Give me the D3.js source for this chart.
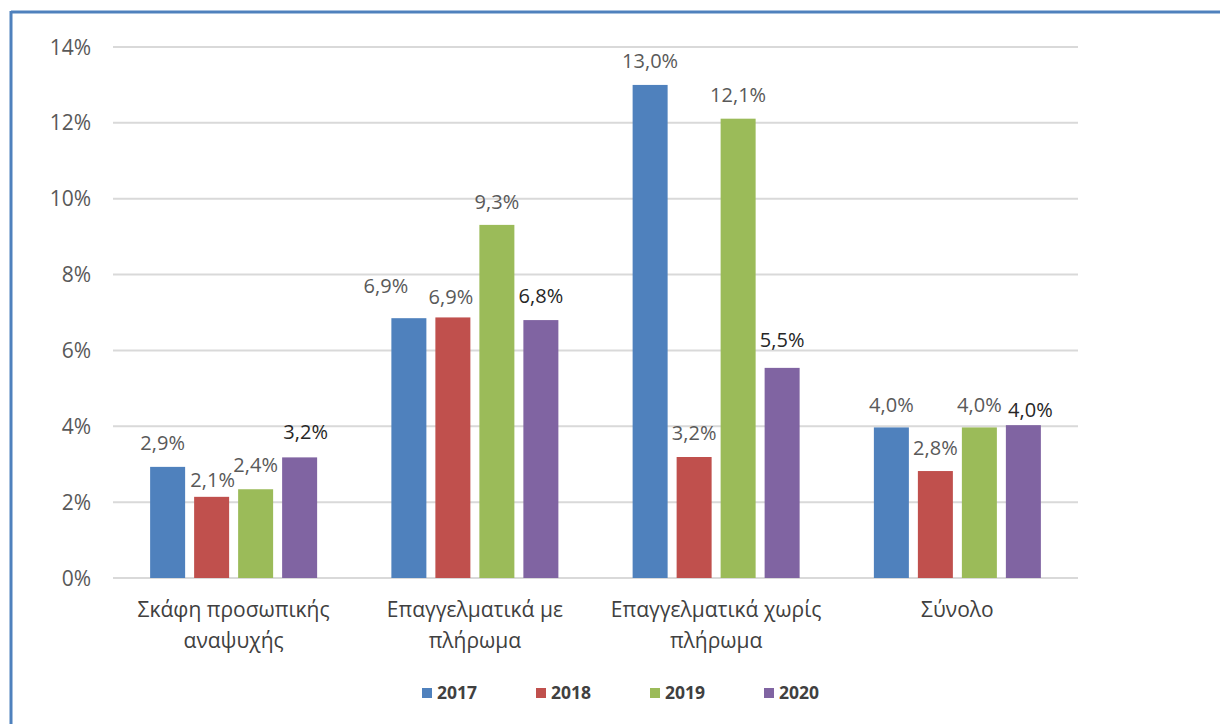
<!DOCTYPE html>
<html><head><meta charset="utf-8">
<script src="https://cdn.jsdelivr.net/npm/d3@7"></script>
<style>html,body{margin:0;padding:0;background:#fff;}svg{display:block;}</style>
</head><body>
<svg id="chart" width="1220" height="724"></svg>
<script>
const categories = [["Σκάφη προσωπικής","αναψυχής"],["Επαγγελματικά με","πλήρωμα"],["Επαγγελματικά χωρίς","πλήρωμα"],["Σύνολο"]];
const years = ["2017","2018","2019","2020"];
const v2017 = [2.93, 6.85, 13.0, 3.97];
const v2018 = [2.14, 6.87, 3.19, 2.82];
const v2019 = [2.34, 9.31, 12.11, 3.97];
const v2020 = [3.18, 6.80, 5.54, 4.03];
const labels2017 = ["2,9%","6,9%","13,0%","4,0%"];
const labels2018 = ["2,1%","6,9%","3,2%","2,8%"];
const labels2019 = ["2,4%","9,3%","12,1%","4,0%"];
const labels2020 = ["3,2%","6,8%","5,5%","4,0%"];
const yTicks = [0,2,4,6,8,10,12,14];
const colors = ["#4f81bd","#c0504d","#9bbb59","#8064a2"];

// layout: manual label nudges (dx, dy) per series/category, as placed in the original
const labelNudge = [
  [[-5,0],[-23,-8],[0,0],[0,2]],
  [[1,7],[-2,4],[0,0],[0,1]],
  [[0,0],[0,1],[0,0],[0,2]],
  [[6,-1],[0,0],[0,-4],[7,9]]
];

const series = [v2017,v2018,v2019,v2020];
const seriesLabels = [labels2017,labels2018,labels2019,labels2020];
const font = "'Open Sans', 'Noto Sans', sans-serif";

const svg = d3.select("#chart");
// outer frame
svg.append("line").attr("x1",11).attr("x2",1220).attr("y1",12).attr("y2",12).attr("stroke","#4f81bd").attr("stroke-width",3);
svg.append("line").attr("x1",11).attr("x2",11).attr("y1",11).attr("y2",724).attr("stroke","#4f81bd").attr("stroke-width",3);

const pLeft=113, pRight=1078, pTop=47, pBottom=578;
const y = d3.scaleLinear().domain([0,14]).range([pBottom, pTop]);
const x0 = d3.scaleBand().domain(d3.range(categories.length)).range([pLeft,pRight]);
const groupW = 167;
const x1 = d3.scaleBand().domain(years).range([0,groupW]).paddingInner(9/44);

// gridlines
svg.append("g").selectAll("line").data(yTicks).join("line")
  .attr("x1",pLeft).attr("x2",pRight)
  .attr("y1",d=>y(d)).attr("y2",d=>y(d))
  .attr("stroke","#d9d9d9").attr("stroke-width",2);

// y tick labels
svg.append("g").selectAll("text").data(yTicks).join("text")
  .attr("x",91).attr("y",d=>y(d)).attr("dy","0.36em")
  .attr("text-anchor","end").attr("font-family",font).attr("font-size",21)
  .attr("fill","#595959").text(d=>d+"%");

// bars
series.forEach((vals,si)=>{
  const g = svg.append("g");
  g.selectAll("rect").data(vals).join("rect")
    .attr("x",(d,i)=>x0(i)+(x0.bandwidth()-groupW)/2+x1(years[si]))
    .attr("width",x1.bandwidth())
    .attr("y",d=>y(d)).attr("height",d=>y(0)-y(d))
    .attr("fill",colors[si]);
  g.selectAll("text").data(vals).join("text")
    .attr("x",(d,i)=>x0(i)+(x0.bandwidth()-groupW)/2+x1(years[si])+x1.bandwidth()/2+labelNudge[si][i][0])
    .attr("y",(d,i)=>y(d)-17+labelNudge[si][i][1])
    .attr("text-anchor","middle").attr("font-family",font).attr("font-size",20)
    .attr("fill",si===3?"#262626":"#595959")
    .text((d,i)=>seriesLabels[si][i]);
});

// category labels
const cg = svg.append("g");
categories.forEach((lines,i)=>{
  const t = cg.append("text").attr("x",x0(i)+x0.bandwidth()/2).attr("y",617)
    .attr("text-anchor","middle").attr("font-family",font).attr("font-size",21).attr("fill","#404040");
  lines.forEach((ln,k)=>t.append("tspan").attr("x",x0(i)+x0.bandwidth()/2).attr("dy",k===0?0:31).text(ln));
});

// legend
const legX = d3.scalePoint().domain(years).range([422,764]);
const lg = svg.append("g");
years.forEach((yr,i)=>{
  lg.append("rect").attr("x",legX(yr)).attr("y",688).attr("width",10).attr("height",10).attr("fill",colors[i]);
  lg.append("text").attr("x",legX(yr)+15).attr("y",693).attr("dy","0.36em")
    .attr("font-family",font).attr("font-size",17.5).attr("font-weight","bold").attr("fill","#404040").text(yr);
});
</script>
</body></html>
